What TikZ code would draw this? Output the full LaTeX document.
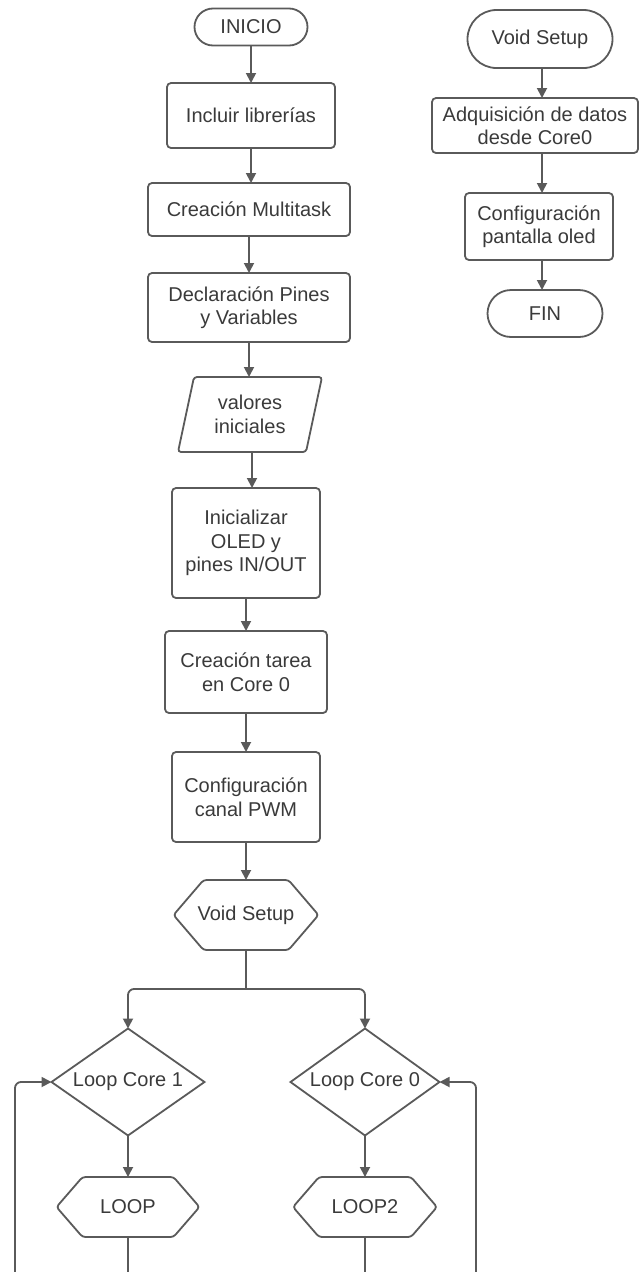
\documentclass[tikz,border=0pt]{standalone}
\usepackage{fontspec}
\setmainfont{Liberation Sans}
\usetikzlibrary{arrows.meta,shapes.misc,shapes.geometric}
\definecolor{edge}{HTML}{5A5A5A}
\definecolor{ink}{HTML}{3A3A3A}

\begin{document}
\begin{tikzpicture}[x=1pt,y=-1pt,
  every node/.style={font=\fontsize{20}{23.5}\selectfont, text=ink, align=center,
                     inner sep=0pt, outer sep=0pt},
  outline/.style={draw=edge, line width=1.8pt, rounded corners=3pt},
  procbox/.style={outline, rounded corners=4pt},
  terminal/.style={rounded rectangle, draw=edge, line width=1.8pt},
  decision/.style={diamond, draw=edge, line width=1.8pt, aspect=1.43,
                   minimum width=153pt, minimum height=107pt},
  conn/.style={draw=edge, line width=1.8pt, rounded corners=6pt,
               -{Triangle[length=10pt,width=10pt]}},
  plain/.style={draw=edge, line width=1.8pt, rounded corners=6pt}
]
\useasboundingbox (0,0) rectangle (640,1272);
\clip (0,0) rectangle (640,1272);

% ---- main sequence ----
\node[terminal, minimum width=113pt, minimum height=37pt] (ini) at (251,27) {INICIO};
\node[procbox, minimum width=168pt, minimum height=65pt] (lib) at (251,115.5) {Incluir librerías};
\node[procbox, minimum width=202pt, minimum height=53pt] (mult) at (249,209.5) {Creación Multitask};
\node[procbox, minimum width=202pt, minimum height=69pt] (decl) at (249,307.5) {Declaración Pines\\y Variables};
\node[minimum width=128pt, minimum height=75pt] (val) at (250,414.5) {valores\\iniciales};
\draw[outline] ([xshift=-56pt]val.north) -- ([xshift=72pt]val.north)
  -- ([xshift=56pt]val.south) -- ([xshift=-72pt]val.south) -- cycle;
\node[procbox, minimum width=148pt, minimum height=110pt] (oled) at (246,543) {Inicializar\\OLED y\\pines IN/OUT};
\node[procbox, minimum width=162pt, minimum height=82pt] (tarea) at (246,672) {Creación tarea\\en Core 0};
\node[procbox, minimum width=148pt, minimum height=90pt] (pwm) at (246,797) {Configuración\\canal PWM};
\node[minimum width=145pt, minimum height=70pt] (vs) at (246,915) {Void Setup};
\draw[outline] ([xshift=30pt]vs.north west) -- ([xshift=-30pt]vs.north east) -- (vs.east)
  -- ([xshift=-30pt]vs.south east) -- ([xshift=30pt]vs.south west) -- (vs.west) -- cycle;

\draw[conn] (ini.south) -- (ini.south |- lib.north);
\draw[conn] (lib.south) -- (lib.south |- mult.north);
\draw[conn] (mult.south) -- (mult.south |- decl.north);
\draw[conn] (decl.south) -- (decl.south |- val.north);
\draw[conn] ([xshift=2pt]val.south) -- ([xshift=2pt]val.south |- oled.north);
\draw[conn] (oled.south) -- (oled.south |- tarea.north);
\draw[conn] (tarea.south) -- (tarea.south |- pwm.north);
\draw[conn] (pwm.south) -- (pwm.south |- vs.north);

% ---- the two cores ----
\node[decision] (d1) at (128,1082) {Loop Core 1};
\node[decision, minimum width=149pt] (d0) at (365,1082) {Loop Core 0};
\node[minimum width=143pt, minimum height=60pt] (lp1) at (128,1207) {LOOP};
\draw[outline] ([xshift=26pt]lp1.north west) -- ([xshift=-26pt]lp1.north east) -- (lp1.east)
  -- ([xshift=-26pt]lp1.south east) -- ([xshift=26pt]lp1.south west) -- (lp1.west) -- cycle;
\node[minimum width=144pt, minimum height=60pt] (lp2) at (365,1207) {LOOP2};
\draw[outline] ([xshift=26pt]lp2.north west) -- ([xshift=-26pt]lp2.north east) -- (lp2.east)
  -- ([xshift=-26pt]lp2.south east) -- ([xshift=26pt]lp2.south west) -- (lp2.west) -- cycle;

\path (vs.south) ++(0,39) coordinate (sp);
\draw[plain] (vs.south) -- (sp);
\draw[conn] (sp) -| (d1.north);
\draw[conn] (sp) -| (d0.north);
\draw[conn] (d1.south) -- (lp1.north);
\draw[conn] (d0.south) -- (lp2.north);

\coordinate (ret1) at (15,1310);
\coordinate (ret0) at (476,1310);
\draw[conn] (lp1.south) |- (ret1) |- (d1.west);
\draw[conn] (lp2.south) |- (ret0) |- (d0.east);

% ---- Void Setup routine ----
\node[terminal, minimum width=145pt, minimum height=58pt] (vs2) at (540,39) {Void Setup};
\node[procbox, minimum width=206pt, minimum height=55pt] (adq) at (535,125.5) {Adquisición de datos\\desde Core0};
\node[procbox, minimum width=148pt, minimum height=67pt] (conf) at (539,226.5) {Configuración\\pantalla oled};
\node[terminal, minimum width=115pt, minimum height=47pt] (fin) at (545,313.5) {FIN};

\draw[conn] ([xshift=2pt]vs2.south) -- ([xshift=2pt]vs2.south |- adq.north);
\draw[conn] ([xshift=7pt]adq.south) -- ([xshift=7pt]adq.south |- conf.north);
\draw[conn] ([xshift=3pt]conf.south) -- ([xshift=3pt]conf.south |- fin.north);
\end{tikzpicture}
\end{document}
